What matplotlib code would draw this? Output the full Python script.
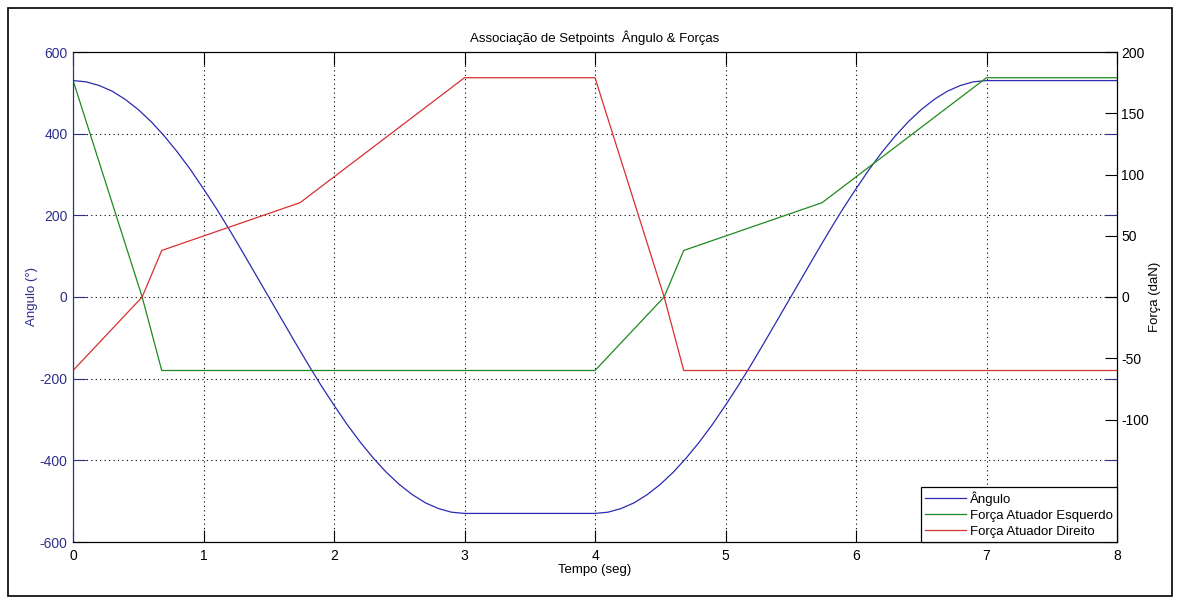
import matplotlib
matplotlib.use("Agg")
import matplotlib.pyplot as plt
from matplotlib.patches import Rectangle

# ================= DADOS =================
# Ângulo (°) - eixo esquerdo
t_desce = [0.0, 0.1, 0.2, 0.3, 0.4, 0.5, 0.6, 0.7, 0.8, 0.9, 1.0,
           1.1, 1.2, 1.3, 1.4, 1.5, 1.6, 1.7, 1.8, 1.9, 2.0,
           2.1, 2.2, 2.3, 2.4, 2.5, 2.6, 2.7, 2.8, 2.9, 3.0]
ang_desce = [530, 527, 518, 504, 484, 459, 429, 394, 355, 312, 265,
             216, 164, 110, 55, 0, -55, -110, -164, -216, -265,
             -312, -355, -394, -429, -459, -484, -504, -518, -527, -530]
t_sobe = [4.0, 4.1, 4.2, 4.3, 4.4, 4.5, 4.6, 4.7, 4.8, 4.9, 5.0,
          5.1, 5.2, 5.3, 5.4, 5.5, 5.6, 5.7, 5.8, 5.9, 6.0,
          6.1, 6.2, 6.3, 6.4, 6.5, 6.6, 6.7, 6.8, 6.9, 7.0, 8.0]
ang_sobe = [-530, -527, -518, -504, -484, -459, -429, -394, -355, -312, -265,
            -216, -164, -110, -55, 0, 55, 110, 164, 216, 265,
            312, 355, 394, 429, 459, 484, 504, 518, 527, 530, 530]

# Forças (daN) - eixo direito
t_esq = [0.0, 0.53, 0.68, 4.0, 4.53, 4.68, 5.74, 7.0, 8.0]
f_esq = [177, 0, -60, -60, 0, 38, 77, 179, 179]
t_dir = [0.0, 0.53, 0.68, 1.74, 3.0, 4.0, 4.53, 4.68, 8.0]
f_dir = [-60, 0, 38, 77, 179, 179, 0, -60, -60]

ticks_ang = [-600, -400, -200, 0, 200, 400, 600]
ticks_forca = [-100, -50, 0, 50, 100, 150, 200]
ticks_tempo = [0, 1, 2, 3, 4, 5, 6, 7, 8]

COR_ANG = "#2b2bb0"
COR_EIXO = "#2e2e8c"
COR_ESQ = "#1e8a1e"
COR_DIR = "#d83030"

plt.rcParams["font.family"] = ["Liberation Sans", "DejaVu Sans"]
plt.rcParams["axes.unicode_minus"] = False

fig = plt.figure(figsize=(11.8, 6.04), dpi=100)
ax = fig.add_axes([73 / 1180, 1 - 542 / 604, (1117 - 73) / 1180, (542 - 52) / 604])
ax2 = ax.twinx()

# moldura em volta da figura
fig.patches.append(Rectangle((8 / 1180, 8 / 604), 1164 / 1180, 588 / 604,
                             transform=fig.transFigure, fill=False,
                             edgecolor="black", linewidth=1.2))

l1, = ax.plot(t_desce + t_sobe, ang_desce + ang_sobe, color=COR_ANG, linewidth=0.9, label="Ângulo")
l2, = ax2.plot(t_esq, f_esq, color=COR_ESQ, linewidth=0.9, label="Força Atuador Esquerdo")
l3, = ax2.plot(t_dir, f_dir, color=COR_DIR, linewidth=0.9, label="Força Atuador Direito")

ax.set_xlim(0, 8)
ax.set_ylim(-600, 600)
ax.set_xticks(ticks_tempo)
ax.set_yticks(ticks_ang)
ax2.set_ylim(-200, 200)
ax2.set_yticks(ticks_forca)

ax.grid(True, color="black", linestyle=(0, (1, 3)), linewidth=0.8)

ax.tick_params(axis="both", direction="in", length=9, labelsize=10, top=True, right=True)
ax.tick_params(axis="y", colors=COR_EIXO, pad=4)
ax.tick_params(axis="x", colors="black", pad=5)
ax2.tick_params(axis="y", direction="in", length=9, labelsize=10, colors="black", pad=3)

ax.spines["left"].set_color(COR_EIXO)
for s in ["top", "bottom"]:
    ax.spines[s].set_color("black")
ax2.spines["left"].set_color(COR_EIXO)
ax2.spines["right"].set_color("black")

ax.set_title("Associação de Setpoints  Ângulo & Forças", fontsize=9.5, pad=7)
ax.set_xlabel("Tempo (seg)", fontsize=9.5, labelpad=1)
ax.set_ylabel("Angulo (°)", fontsize=9.5, color=COR_EIXO, labelpad=1)
ax2.set_ylabel("Força (daN)", fontsize=9.5, color="black", labelpad=0)

leg = ax2.legend(handles=[l1, l2, l3], loc="lower right", fontsize=9.5,
                 borderaxespad=0, fancybox=False, framealpha=1, edgecolor="black",
                 handlelength=3.1, handletextpad=0.3, labelspacing=0.3, borderpad=0.3)
leg.get_frame().set_linewidth(0.9)

plt.savefig("out.png", dpi=100)
plt.close()
